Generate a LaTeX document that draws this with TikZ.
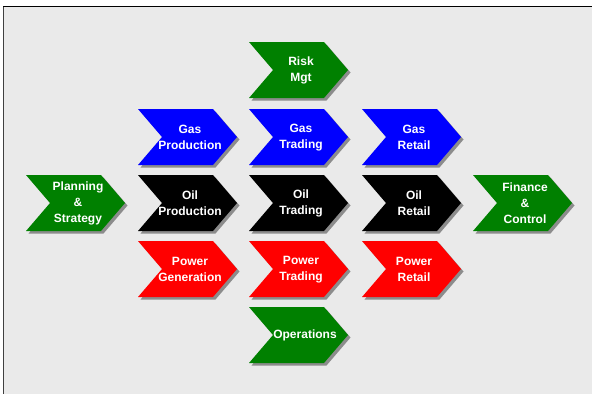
\documentclass[tikz,border=0pt]{standalone}
\usepackage{fontspec}
\setmainfont{Liberation Sans}
\definecolor{bggray}{HTML}{EAEAEA}
\definecolor{cgreen}{HTML}{008000}
\definecolor{cblue}{HTML}{0000FF}
\definecolor{cred}{HTML}{FF0000}
\definecolor{shadowgray}{HTML}{8C8C8C}
\tikzset{
  chevlabel/.style={text=white, font=\bfseries\fontsize{12}{16}\selectfont, align=center, inner sep=0pt},
  chevshadow/.style={fill=shadowgray, draw=none},
}
% #1 name, #2 left x, #3 top y, #4 colour, #5 text, #6 text x offset
\newcommand{\mychev}[6]{%
  \fill[chevshadow] (#2+2.5,#3+2.5) -- ++(75,0) -- ++(24,28) -- ++(-24,28) -- ++(-75,0) -- ++(24,-28) -- cycle;
  \fill[#4] (#2,#3) -- ++(75,0) -- ++(24,28) -- ++(-24,28) -- ++(-75,0) -- ++(24,-28) -- cycle;
  \node[chevlabel] (#1) at (#2+52+#6,#3+28.5) {#5};
}
\begin{document}
\begin{tikzpicture}[x=1pt,y=-1pt]
\useasboundingbox (0,0) rectangle (592,394);
\fill[white] (0,0) rectangle (592,394);
\fill[bggray] (4,6.5) rectangle (592,394);
\draw[line width=1.4pt, black] (3,6.5) -- (592,6.5);
\draw[line width=1.2pt, black!75] (3.6,6.5) -- (3.6,394);
\mychev{risk}{249}{42}{cgreen}{Risk\\Mgt}{0}
\mychev{gasprod}{138}{109}{cblue}{Gas\\Production}{0}
\mychev{gastrade}{249}{109}{cblue}{Gas\\Trading}{0}
\mychev{gasretail}{362}{109}{cblue}{Gas\\Retail}{0}
\mychev{plan}{26}{175}{cgreen}{Planning\\\&\\Strategy}{0}
\mychev{oilprod}{138}{175}{black}{Oil\\Production}{0}
\mychev{oiltrade}{249}{175}{black}{Oil\\Trading}{0}
\mychev{oilretail}{362}{175}{black}{Oil\\Retail}{0}
\mychev{finance}{473}{175}{cgreen}{Finance\\\&\\Control}{0}
\mychev{powgen}{138}{241}{cred}{Power\\Generation}{0}
\mychev{powtrade}{249}{241}{cred}{Power\\Trading}{0}
\mychev{powretail}{362}{241}{cred}{Power\\Retail}{0}
\mychev{ops}{249}{307}{cgreen}{Operations}{4}
\end{tikzpicture}
\end{document}
